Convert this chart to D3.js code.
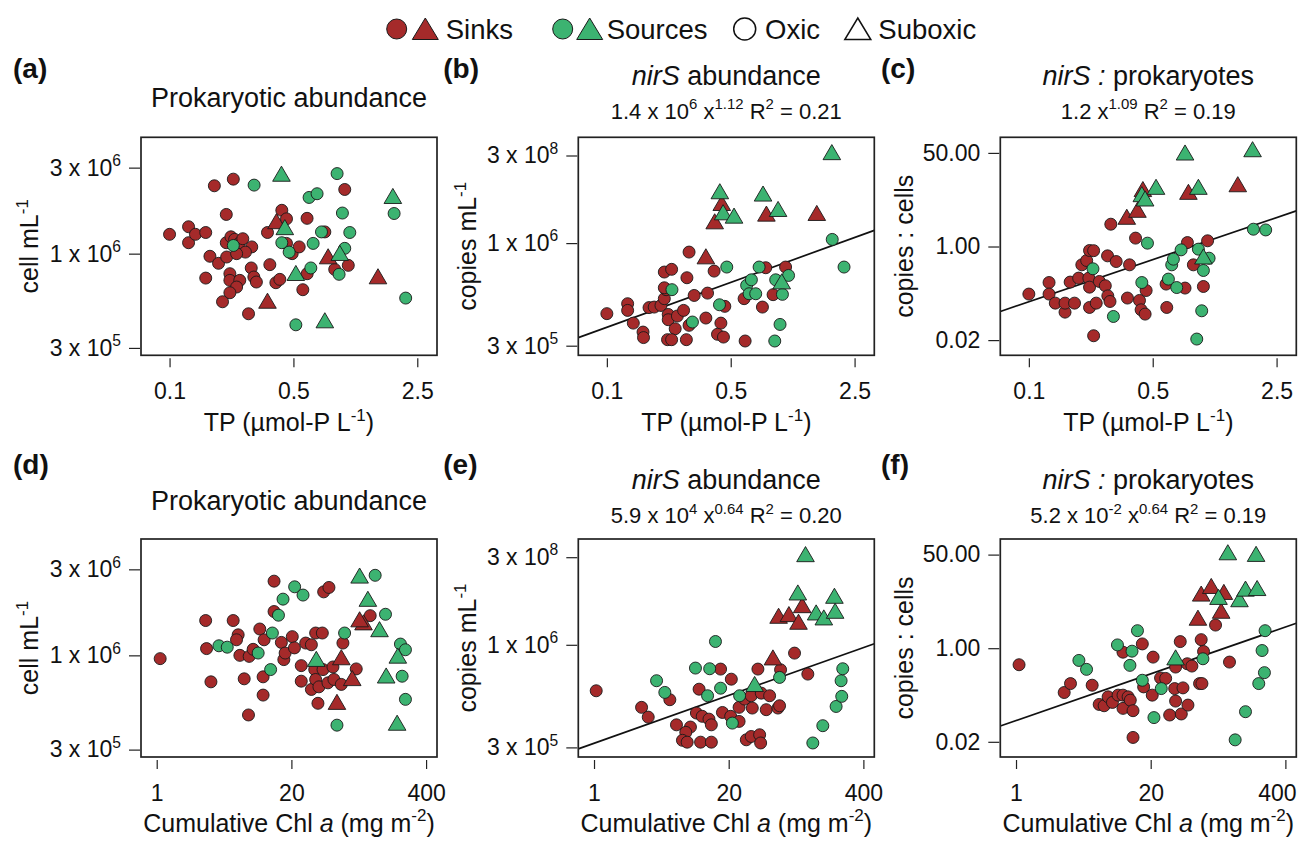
<!DOCTYPE html>
<html>
<head>
<meta charset="utf-8">
<script src="https://cdn.jsdelivr.net/npm/d3@7"></script>
<style>
body { margin: 0; background: #fff; }
svg { font-family: "Liberation Sans", Arial, Helvetica, sans-serif; }
</style>
</head>
<body>
<svg id="fig" width="1299" height="845"></svg>
<script>
// ---- values: [x, y] per sample ----
// top row: x = TP (umol-P/L); bottom row: x = cumulative Chl a (mg/m2)

var A_sinkOxic = [[0.10,1.28e6],[0.128,1.41e6],[0.128,1.15e6],[0.140,1.28e6],[0.160,1.31e6],[0.179,2.38e6],[0.229,2.59e6],[0.209,1.65e6],[0.169,0.967e6],[0.189,0.884e6],[0.160,0.732e6],[0.209,1.15e6],[0.222,1.24e6],[0.233,1.20e6],[0.247,1.14e6],[0.259,1.21e6],[0.291,1.09e6],[0.268,1.02e6],[0.210,0.958e6],[0.239,1.0e6],[0.219,0.774e6],[0.219,0.711e6],[0.249,0.711e6],[0.239,0.653e6],[0.219,0.607e6],[0.199,0.541e6],[0.289,0.833e6],[0.299,0.742e6],[0.309,0.696e6],[0.279,0.464e6],[0.357,1.31e6],[0.368,0.869e6],[0.398,0.690e6],[0.419,0.720e6],[0.430,1.74e6],[0.457,1.56e6],[0.457,1.14e6],[0.492,1.0e6],[0.539,1.09e6],[0.597,1.57e6],[0.598,0.774e6],[0.565,0.631e6],[0.752,1.32e6],[0.855,0.818e6],[0.974,2.27e6],[1.02,0.861e6]];
var A_sinkSuboxic = [[0.401,1.50e6],[0.357,0.543e6],[0.785,0.958e6],[1.50,0.742e6]];
var A_sourceOxic = [[0.300,2.40e6],[0.229,1.11e6],[0.430,1.15e6],[0.473,1.02e6],[0.613,2.05e6],[0.680,2.15e6],[0.646,1.14e6],[0.720,1.32e6],[0.627,0.833e6],[0.882,2.78e6],[0.945,1.68e6],[1.04,1.31e6],[0.974,1.07e6],[0.905,0.768e6],[0.516,0.403e6],[1.85,1.67e6],[2.15,0.567e6]];
var A_sourceSuboxic = [[0.428,2.75e6],[0.447,1.39e6],[0.516,0.774e6],[0.913,1.0e6],[1.82,2.07e6],[0.752,0.423e6]];

var B_sinkOxic = [[0.100,4.37e5],[0.131,4.91e5],[0.131,4.54e5],[0.141,3.91e5],[0.160,3.52e5],[0.161,3.30e5],[0.173,4.69e5],[0.185,4.72e5],[0.202,4.81e5],[0.211,5.21e5],[0.211,7.12e5],[0.232,7.35e5],[0.216,5.79e5],[0.211,5.92e5],[0.222,4.33e5],[0.222,4.07e5],[0.250,4.25e5],[0.271,4.54e5],[0.243,3.66e5],[0.220,3.22e5],[0.232,3.22e5],[0.281,3.22e5],[0.283,6.66e5],[0.291,9.0e5],[0.311,5.41e5],[0.291,3.81e5],[0.362,4.15e5],[0.370,5.56e5],[0.403,7.2e5],[0.440,3.91e5],[0.421,3.43e5],[0.455,3.32e5],[0.463,4.76e5],[0.603,3.17e5],[0.595,5.21e5],[0.755,4.72e5],[0.788,7.49e5],[0.867,5.46e5],[1.02,7.55e5]];
var B_sinkSuboxic = [[0.362,8.49e5],[0.445,1.30e7],[0.406,3.94e6],[0.795,6.5e6],[1.53,6.79e6]];
var B_sourceOxic = [[0.233,5.79e5],[0.304,3.96e5],[0.475,7.55e5],[0.432,4.85e5],[0.615,6.09e5],[0.654,6.5e5],[0.635,5.52e5],[0.692,5.52e5],[0.723,7.55e5],[0.897,6.5e5],[1.06,6.84e5],[0.979,5.48e5],[0.949,3.85e5],[0.886,3.17e5],[1.87,1.27e6],[2.18,7.55e5]];
var B_sourceSuboxic = [[0.434,2.79e7],[0.453,7.09e6],[0.522,5.7e6],[0.761,2.4e7],[0.925,8.81e6],[1.86,3.56e8],[0.970,6.33e5]];

var C_sinkOxic = [[0.100,0.137],[0.130,0.222],[0.130,0.137],[0.141,0.0938],[0.160,0.0644],[0.160,0.0938],[0.181,0.0938],[0.171,0.226],[0.191,0.267],[0.199,0.465],[0.212,0.557],[0.220,0.846],[0.232,0.84],[0.218,0.267],[0.220,0.183],[0.220,0.0783],[0.240,0.0938],[0.250,0.232],[0.270,0.194],[0.279,0.127],[0.287,0.1005],[0.278,0.677],[0.311,0.534],[0.290,2.54],[0.360,0.116],[0.370,0.465],[0.400,1.42],[0.421,0.105],[0.430,0.071],[0.453,0.0593],[0.459,0.159],[0.600,0.0783],[0.595,0.208],[0.761,0.176],[0.785,1.18],[0.848,0.465],[0.966,0.188],[1.02,1.27],[0.232,0.024]];
var C_sinkSuboxic = [[0.357,3.36],[0.410,4.5],[0.440,10.7],[0.795,9.53],[1.51,13.1]];
var C_sourceOxic = [[0.230,0.394],[0.300,0.0537],[0.467,1.15],[0.434,0.222],[0.613,0.256],[0.683,0.180],[0.640,0.465],[0.654,0.589],[0.723,0.87],[0.905,0.895],[0.966,0.367],[1.04,0.614],[0.945,0.0681],[0.886,0.0209],[1.85,2.06],[2.17,2.0]];
var C_sourceSuboxic = [[0.434,8.65],[0.453,7.22],[0.522,11.75],[0.761,49.3],[0.905,11.75],[1.83,56.6],[0.966,0.64]];

var D_sinkOxic = [[1.08,0.959e6],[2.97,1.56e6],[3.03,1.09e6],[3.34,0.713e6],[5.48,1.56e6],[6.12,1.30e6],[5.9,1.22e6],[6.36,1.0e6],[7.0,0.741e6],[7.82,0.987e6],[8.54,1.08e6],[7.7,0.467e6],[9.9,1.40e6],[10.9,1.22e6],[10.66,0.76e6],[10.66,0.602e6],[13.6,2.58e6],[13.6,1.75e6],[16.0,1.18e6],[16.9,0.947e6],[17.4,1.03e6],[20.4,1.27e6],[21.4,1.10e6],[24.9,0.877e6],[24.9,0.719e6],[27.5,1.17e6],[31.2,1.145e6],[31.2,0.647e6],[34.3,1.33e6],[33.6,0.834e6],[34.3,0.735e6],[36.1,0.542e6],[36.9,0.669e6],[39.8,1.33e6],[41.0,2.25e6],[46.1,2.38e6],[40.4,0.834e6],[45.1,0.704e6],[50.4,0.862e6],[51.5,0.735e6],[60.7,0.69e6],[62.9,1.17e6],[84.6,0.841e6],[115.4,1.66e6]];
var D_sinkSuboxic = [[60.7,0.967e6],[55.1,0.547e6],[77.4,0.741e6],[99.5,1.51e6],[91.2,1.57e6]];
var D_sourceOxic = [[3.99,1.13e6],[4.8,1.11e6],[9.55,1.03e6],[12.6,0.834e6],[13.1,1.33e6],[15.0,1.67e6],[16.6,2.05e6],[21.5,2.4e6],[25.9,2.16e6],[55.1,0.41e6],[65.3,1.33e6],[128.9,2.78e6],[162.2,1.69e6],[226.2,1.155e6],[252.8,1.074e6],[234.8,0.766e6],[252.8,0.57e6]];
var D_sourceSuboxic = [[34.8,0.947e6],[91.2,2.745e6],[109.6,2.04e6],[142,1.384e6],[164.7,0.766e6],[213.3,0.987e6],[210.1,0.419e6]];

var E_sinkOxic = [[1.05,5.83e5],[2.88,4.8e5],[3.34,4.28e5],[5.4,5.25e5],[6.26,3.91e5],[8.54,3.81e5],[7.7,3.58e5],[7.15,3.26e5],[7.94,3.19e5],[10.7,3.19e5],[13.6,3.19e5],[9.75,4.49e5],[11.1,4.32e5],[12.9,4.18e5],[13.6,3.91e5],[10.35,5.94e5],[16.7,7.52e5],[17.4,4.52e5],[20.9,4.32e5],[21.2,6.68e5],[25.2,4.07e5],[25.2,4.8e5],[29.6,3.28e5],[33.0,3.41e5],[39.8,3.48e5],[40.7,3.16e5],[28.5,5.29e5],[33.0,5.5e5],[33.8,4.76e5],[41.3,5.67e5],[49.7,5.5e5],[46.1,4.67e5],[38.3,7.52e5],[59.8,4.76e5],[62.0,4.89e5],[63.4,7.46e5],[86.5,9.07e5],[116.3,7.09e5]];
var E_sinkSuboxic = [[53.5,8.55e5],[60.7,6.31e6],[76.3,7.04e6],[94.5,4.28e6],[102.6,1.26e7]];
var E_sourceOxic = [[4.02,6.56e5],[4.83,5.72e5],[9.55,7.61e5],[13.1,7.55e5],[12.5,5.5e5],[14.9,1.24e6],[16.7,6.01e5],[21.7,3.99e5],[25.5,5.5e5],[62.0,6.82e5],[129.9,3.16e5],[162.2,3.87e5],[218.1,4.85e5],[247.2,5.46e5],[243.7,6.56e5],[252.8,7.55e5]];
var E_sourceSuboxic = [[35.6,6.26e5],[93.1,2.88e7],[110.4,3.49e8],[139.9,7.84e6],[165.9,5.67e6],[210.1,2.32e7],[213.3,8.74e6]];

var F_sinkOxic = [[1.07,0.501],[2.92,0.157],[3.36,0.228],[5.44,0.213],[6.36,0.0954],[7.1,0.0903],[7.76,0.131],[8.54,0.1037],[9.68,0.1406],[10.8,0.1406],[10.8,0.0809],[12.1,0.131],[12.7,0.114],[13.5,0.0734],[13.5,0.024],[10.8,0.847],[16.6,1.197],[17.1,0.1986],[20.7,0.1406],[21.1,0.689],[24.9,0.288],[27.9,0.283],[30.5,0.0613],[34.1,0.185],[34.8,0.1096],[34.8,0.455],[38.6,1.318],[39.5,0.064],[41.0,0.1905],[45.8,0.0928],[45.1,0.522],[50.0,0.474],[59.3,0.228],[62.5,0.228],[61.5,1.43],[64.8,0.871],[84.6,2.63],[115.4,0.56]];
var F_sinkSuboxic = [[57.2,3.47],[61.5,9.51],[76.9,13.08],[101.8,10.2],[95.9,4.64]];
var F_sourceOxic = [[4.05,0.6],[4.8,0.413],[9.55,1.148],[13.2,0.883],[12.6,0.488],[14.9,2.08],[16.6,0.262],[25.3,0.185],[21.5,0.055],[63.9,0.643],[130.9,0.0217],[164.7,0.0704],[221.3,0.228],[251,0.36],[238.3,0.908],[254.7,2.08]];
var F_sourceSuboxic = [[34.8,0.661],[90.4,8.28],[111.2,53.5],[144.1,7.52],[164.7,11.7],[208.5,50.0],[213.3,12.0]];

// power-law fits, evaluated at the panel edges
var fitB = [[0.069,3.3e5],[3.23,2.29e6]];
var fitC = [[0.069,0.0662],[3.23,4.44]];
var fitE = [[0.705,2.95e5],[510,1.07e6]];
var fitF = [[0.705,0.0387],[510,2.83]];

// axis ticks
var tpTicks = [0.1, 0.5, 2.5];
var chlTicks = [1, 20, 400];
var cellTicks = [3e5, 1e6, 3e6];
var copyTicks = [3e5, 1e6, 3e8];
var ratioTicks = [0.02, 1, 50];

var legendLabels = ["Sinks", "Sources", "Oxic", "Suboxic"];

// ---- layout ----
var RED = "#a52a2a", GREEN = "#3cb371";
var boxLeft = [141, 578.3, 1000.3];
var boxTop = [137.3, 539];
var W = 296, H = 218;
var svg = d3.select("#fig");

// writes text pieces; style "sup" = superscript, "it" = italic
function rich(textSel, segs, fs) {
    var shift = 0;
    segs.forEach(function(s) {
        var t = textSel.append("tspan").text(s[0]);
        if (s[1] == "it") t.attr("font-style", "italic");
        if (s[1] == "sup") {
            t.attr("font-size", fs * 0.68).attr("dy", -fs * 0.42 - shift);
            shift = -fs * 0.42;
        } else if (shift != 0) {
            t.attr("dy", -shift);
            shift = 0;
        }
    });
}

function sciLabel(v) {
    var e = Math.floor(Math.log10(v) + 1e-9);
    var m = Math.round(v / Math.pow(10, e));
    return [[m + " x 10", ""], [String(e), "sup"]];
}

var triSmall = "M0,-8.3L8.8,6.8L-8.8,6.8Z";
var triBig = "M0,-11L13,10.5L-13,10.5Z";

var xTP = [["TP (µmol-P L", ""], ["-1", "sup"], [")", ""]];
var xChl = [["Cumulative Chl ", ""], ["a", "it"], [" (mg m", ""], ["-2", "sup"], [")", ""]];

var panels = [
    {letter:"(a)", col:0, row:0, xd:[0.069,3.23], xt:tpTicks, xTitle:xTP, kind:"cell",
     groups:[A_sinkOxic,A_sinkSuboxic,A_sourceOxic,A_sourceSuboxic], fit:null,
     title:[["Prokaryotic abundance",""]], sub:null},
    {letter:"(b)", col:1, row:0, xd:[0.069,3.23], xt:tpTicks, xTitle:xTP, kind:"copy",
     groups:[B_sinkOxic,B_sinkSuboxic,B_sourceOxic,B_sourceSuboxic], fit:fitB,
     title:[["nirS","it"],[" abundance",""]],
     sub:[["1.4 x 10",""],["6","sup"],[" x",""],["1.12","sup"],[" R",""],["2","sup"],[" = 0.21",""]]},
    {letter:"(c)", col:2, row:0, xd:[0.069,3.23], xt:tpTicks, xTitle:xTP, kind:"ratio",
     groups:[C_sinkOxic,C_sinkSuboxic,C_sourceOxic,C_sourceSuboxic], fit:fitC,
     title:[["nirS :","it"],[" prokaryotes",""]],
     sub:[["1.2 x",""],["1.09","sup"],[" R",""],["2","sup"],[" = 0.19",""]]},
    {letter:"(d)", col:0, row:1, xd:[0.705,510], xt:chlTicks, xTitle:xChl, kind:"cell",
     groups:[D_sinkOxic,D_sinkSuboxic,D_sourceOxic,D_sourceSuboxic], fit:null,
     title:[["Prokaryotic abundance",""]], sub:null},
    {letter:"(e)", col:1, row:1, xd:[0.705,510], xt:chlTicks, xTitle:xChl, kind:"copy",
     groups:[E_sinkOxic,E_sinkSuboxic,E_sourceOxic,E_sourceSuboxic], fit:fitE,
     title:[["nirS","it"],[" abundance",""]],
     sub:[["5.9 x 10",""],["4","sup"],[" x",""],["0.64","sup"],[" R",""],["2","sup"],[" = 0.20",""]]},
    {letter:"(f)", col:2, row:1, xd:[0.705,510], xt:chlTicks, xTitle:xChl, kind:"ratio",
     groups:[F_sinkOxic,F_sinkSuboxic,F_sourceOxic,F_sourceSuboxic], fit:fitF,
     title:[["nirS :","it"],[" prokaryotes",""]],
     sub:[["5.2 x 10",""],["-2","sup"],[" x",""],["0.64","sup"],[" R",""],["2","sup"],[" = 0.19",""]]}
];

var letterX = [13, 443.3, 881];
var yTitleOff = [-103, -102, -87];

panels.forEach(function(p, i) {
    var left = boxLeft[p.col], top = boxTop[p.row];
    var g = svg.append("g");

    var x = d3.scaleLog().domain(p.xd).range([left, left + W]);
    var y, yticks, ylab, yTitle;
    if (p.kind == "cell") {
        y = d3.scaleLog().domain([2.73e5, 4.42e6]).range([top + H, top]);
        yticks = cellTicks; ylab = sciLabel;
        yTitle = [["cell mL", ""], ["-1", "sup"]];
    } else if (p.kind == "copy") {
        // the printed axis is not evenly logarithmic, so map it piece by piece
        y = d3.scaleLog().domain([3e5, 1e6, 3e8]).range([top + 208.4, top + 105.8, top + 18.2]);
        yticks = copyTicks; ylab = sciLabel;
        yTitle = [["copies mL", ""], ["-1", "sup"]];
    } else {
        y = d3.scaleLog().domain([0.0106, 96]).range([top + H, top]);
        yticks = ratioTicks;
        ylab = function(v) { return [[d3.format(".2f")(v), ""]]; };
        yTitle = [["copies : cells", ""]];
    }

    // clip
    svg.append("clipPath").attr("id", "clip" + i)
        .append("rect").attr("x", left).attr("y", top).attr("width", W).attr("height", H);

    // fit line
    if (p.fit) {
        g.append("path")
            .datum(p.fit)
            .attr("clip-path", "url(#clip" + i + ")")
            .attr("d", d3.line().x(function(d){ return x(d[0]); }).y(function(d){ return y(d[1]); }))
            .attr("fill", "none").attr("stroke", "#111").attr("stroke-width", 1.7);
    }

    // points
    var fills = [RED, RED, GREEN, GREEN];
    p.groups.forEach(function(arr, k) {
        var tri = (k == 1 || k == 3);
        var sel = g.append("g").selectAll("path").data(arr).enter();
        if (tri) {
            sel.append("path")
                .attr("d", triSmall)
                .attr("transform", function(d){ return "translate(" + x(d[0]) + "," + y(d[1]) + ")"; })
                .attr("fill", fills[k]).attr("stroke", "#1a1a1a").attr("stroke-width", 0.9);
        } else {
            sel.append("circle")
                .attr("cx", function(d){ return x(d[0]); })
                .attr("cy", function(d){ return y(d[1]); })
                .attr("r", 6)
                .attr("fill", fills[k]).attr("stroke", "#1a1a1a").attr("stroke-width", 0.9);
        }
    });

    // box
    g.append("rect").attr("x", left).attr("y", top).attr("width", W).attr("height", H)
        .attr("fill", "none").attr("stroke", "#222").attr("stroke-width", 1.7);

    // x axis
    var xa = g.append("g").attr("transform", "translate(0," + (top + H + 3) + ")")
        .call(d3.axisBottom(x).tickValues(p.xt).tickSize(9).tickPadding(15.5).tickFormat(function(v){ return String(v); }));
    xa.select(".domain").remove();
    xa.selectAll("line").attr("stroke", "#222").attr("stroke-width", 1.2);
    xa.selectAll("text").attr("font-size", 23).attr("fill", "#111").attr("font-family", null)
        .each(function(v) {
            // keep the last label inside the page, as in the original
            var tx = x(v), half = this.getComputedTextLength() / 2;
            if (tx + half > 1296) d3.select(this).attr("x", 1296 - half - tx);
        });

    // y axis
    var ya = g.append("g").attr("transform", "translate(" + (left - 1) + ",0)")
        .call(d3.axisLeft(y).tickValues(yticks).tickSize(11).tickPadding(8));
    ya.select(".domain").remove();
    ya.selectAll("line").attr("stroke", "#222").attr("stroke-width", 1.2);
    ya.selectAll("text").attr("font-size", 23).attr("fill", "#111").attr("font-family", null)
        .each(function(v) {
            var t = d3.select(this);
            t.text(null);
            rich(t, ylab(v), 23);
        });

    // axis titles
    var xt = g.append("text").attr("x", left + W / 2).attr("y", p.row == 0 ? 431 : 831.7)
        .attr("text-anchor", "middle").attr("font-size", 25).attr("fill", "#111");
    rich(xt, p.xTitle, 25);
    var yt = g.append("text")
        .attr("transform", "translate(" + (left + yTitleOff[p.col]) + "," + (top + H / 2) + ") rotate(-90)")
        .attr("text-anchor", "middle").attr("font-size", 25).attr("fill", "#111");
    rich(yt, yTitle, 25);

    // panel letter
    g.append("text").attr("x", letterX[p.col]).attr("y", p.row == 0 ? 77.5 : 473.5)
        .attr("font-size", 28).attr("font-weight", "bold").attr("fill", "#111").text(p.letter);

    // titles
    var ty;
    if (p.sub) ty = p.row == 0 ? 85 : 489;
    else ty = p.row == 0 ? 106.7 : 510;
    var tt = g.append("text").attr("x", left + W / 2).attr("y", ty)
        .attr("text-anchor", "middle").attr("font-size", 27).attr("fill", "#111");
    rich(tt, p.title, 27);
    if (p.sub) {
        var st = g.append("text").attr("x", left + W / 2).attr("y", p.row == 0 ? 118.5 : 523)
            .attr("text-anchor", "middle").attr("font-size", 22).attr("fill", "#111");
        rich(st, p.sub, 22);
    }
});

// ---- legend ----
var lg = svg.append("g");
var ly = 29;
lg.append("circle").attr("cx", 396.7).attr("cy", ly).attr("r", 10).attr("fill", RED).attr("stroke", "#1a1a1a").attr("stroke-width", 1);
lg.append("path").attr("d", triBig).attr("transform", "translate(425.3," + ly + ")").attr("fill", RED).attr("stroke", "#1a1a1a").attr("stroke-width", 1);
lg.append("circle").attr("cx", 562.7).attr("cy", ly).attr("r", 10).attr("fill", GREEN).attr("stroke", "#1a1a1a").attr("stroke-width", 1);
lg.append("path").attr("d", triBig).attr("transform", "translate(589.7," + ly + ")").attr("fill", GREEN).attr("stroke", "#1a1a1a").attr("stroke-width", 1);
lg.append("circle").attr("cx", 744.7).attr("cy", ly).attr("r", 11).attr("fill", "#fff").attr("stroke", "#111").attr("stroke-width", 1.5);
lg.append("path").attr("d", triBig).attr("transform", "translate(857.8," + ly + ")").attr("fill", "#fff").attr("stroke", "#111").attr("stroke-width", 1.5);

var legendX = [445.7, 606.7, 765, 878.3];
lg.selectAll("text.lab").data(legendLabels).enter().append("text")
    .attr("class", "lab")
    .attr("x", function(d, i){ return legendX[i]; })
    .attr("y", 38.5)
    .attr("font-size", 27.5).attr("fill", "#111")
    .text(function(d){ return d; });
</script>
</body>
</html>
